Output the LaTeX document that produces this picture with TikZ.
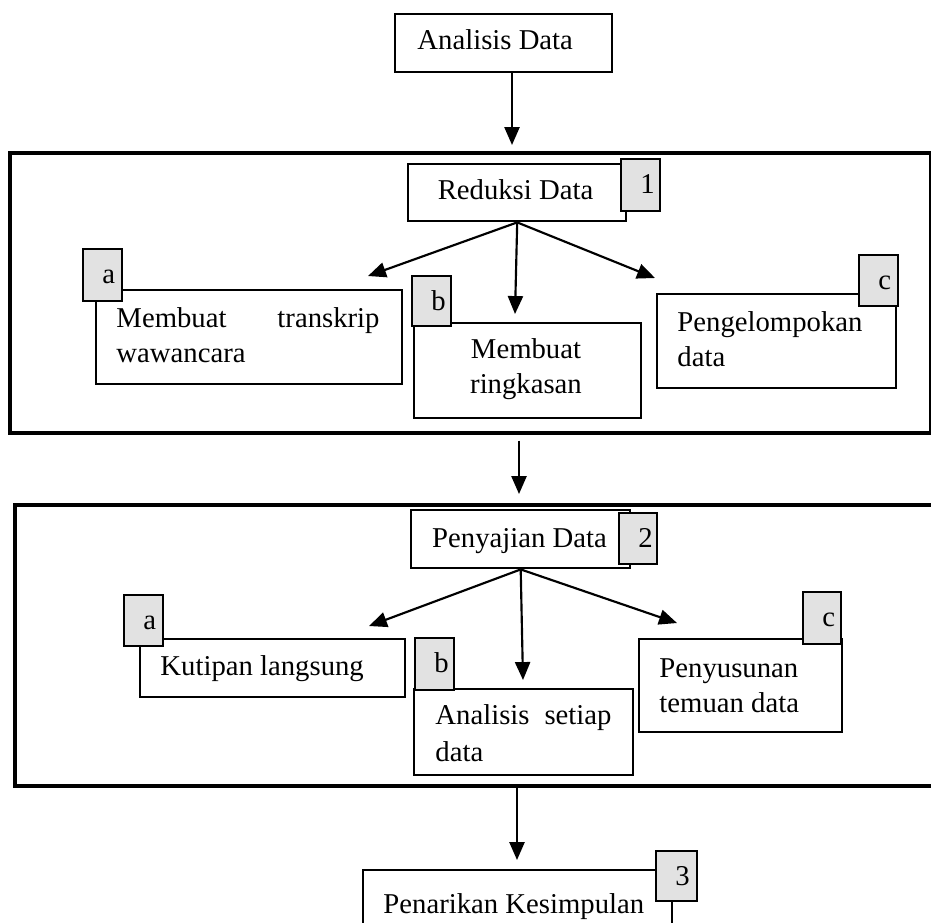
\documentclass[tikz,border=0pt]{standalone}
\usepackage{fontspec}
\setmainfont{Liberation Serif}
\usetikzlibrary{arrows.meta}
\definecolor{badgegray}{HTML}{E2E2E2}
\newdimen\pxu \pxu=0.418pt
% numbered tag box: name, left, top, width, height, label
\newcommand\mkbadge[6]{%
  \node[badge, wh={#4}{#5}] (#1) at (#2,#3) {};
  \node[txt, anchor=base west] (#1-t) at (#2+20,#3+35) {#6};}
\begin{document}
\begin{tikzpicture}[x=0.418pt,y=-0.418pt,
  txt/.style={inner sep=0, font=\fontsize{12pt}{15pt}\selectfont},
  wh/.style 2 args={minimum width=#1*\pxu, minimum height=#2*\pxu},
  frame/.style={draw, line width=1.5pt, inner sep=0, anchor=north west},
  box/.style={draw, fill=white, line width=1pt, inner sep=0, anchor=north west},
  badge/.style={draw, fill=badgegray, line width=1pt, inner sep=0, anchor=north west},
  arr/.style={-{Triangle[width=6.3pt,length=7.5pt]}, line width=0.9pt}]
\useasboundingbox (0,0) rectangle (931,922);
\clip (0,0) rectangle (931,922);

% ---- start
\node[box, wh={217}{58}] (A) at (394,13) {};
\node[txt, anchor=base west] (A-t) at (417,49) {Analisis Data};
\coordinate (tA) at (512,145);
\draw[arr] (A.south -| tA) -- (tA);

% ---- stage 1: data reduction
\node[frame, wh={921}{280}] (F1) at (8,151) {};
\node[box, wh={218}{57}] (R) at (407,163) {};
\node[txt, anchor=base] (R-t) at (515.5,199) {Reduksi Data};
\mkbadge{B1}{620}{158}{39}{52}{1}

\node[box, wh={306}{94}] (Ra) at (95,289) {};
\node[txt, anchor=base west] (Ra-t1) at (116,327) {Membuat};
\node[txt, anchor=base east] (Ra-t2) at (380,327) {transkrip};
\node[txt, anchor=base west] (Ra-t3) at (116,362) {wawancara};
\mkbadge{Ba1}{82}{248}{39}{52}{a}

\node[box, wh={227}{95}] (Rb) at (413,322) {};
\node[txt, anchor=base] (Rb-t1) at (526,358) {Membuat};
\node[txt, anchor=base] (Rb-t2) at (526,393) {ringkasan};
\mkbadge{Bb1}{411}{275}{39}{50}{b}

\node[box, wh={239}{94}] (Rc) at (656,293) {};
\node[txt, anchor=base west] (Rc-t1) at (677,331) {Pengelompokan};
\node[txt, anchor=base west] (Rc-t2) at (677,366) {data};
\mkbadge{Bc1}{858}{254}{39}{51}{c}

\coordinate (ra) at (368,276);
\coordinate (rb) at (515,314);
\coordinate (rc) at (655,278);
\draw[arr] (R.south) -- (ra);
\draw[arr] (R.south) -- (rb);
\draw[arr] (R.south) -- (rc);

\coordinate (tF1) at (519,494);
\draw[arr, shorten <=2.5pt] (F1.south -| tF1) -- (tF1);

% ---- stage 2: data display
\node[frame, wh={940}{281}] (F2) at (13,503) {};
\node[box, wh={219}{58}] (P) at (410,509) {};
\node[txt, anchor=base] (P-t) at (519.5,547) {Penyajian Data};
\mkbadge{B2}{618}{512}{38}{51}{2}

\node[box, wh={265}{58}] (Pa) at (139,638) {};
\node[txt, anchor=base west] (Pa-t) at (160,675) {Kutipan langsung};
\mkbadge{Ba2}{123}{594}{39}{51}{a}

\node[box, wh={219}{86}] (Pb) at (413,688) {};
\node[txt, anchor=base west] (Pb-t1) at (435,724) {Analisis};
\node[txt, anchor=base east] (Pb-t2) at (612,724) {setiap};
\node[txt, anchor=base west] (Pb-t3) at (435,761) {data};
\mkbadge{Bb2}{414}{637}{39}{52}{b}

\node[box, wh={203}{93}] (Pc) at (638,638) {};
\node[txt, anchor=base west] (Pc-t1) at (659,677) {Penyusunan};
\node[txt, anchor=base west] (Pc-t2) at (659,712) {temuan data};
\mkbadge{Bc2}{802}{591}{38}{52}{c}

\coordinate (pa) at (369,626);
\coordinate (pb) at (523,680);
\coordinate (pc) at (677,623);
\draw[arr] (P.south) -- (pa);
\draw[arr] (P.south) -- (pb);
\draw[arr] (P.south) -- (pc);

\coordinate (tF2) at (517,860);
\draw[arr] (F2.south -| tF2) -- (tF2);

% ---- stage 3: conclusion
\node[box, wh={309}{100}] (K) at (362,869) {};
\node[txt, anchor=base west] (K-t) at (383,913) {Penarikan Kesimpulan};
\mkbadge{B3}{655}{850}{41}{50}{3}
\end{tikzpicture}
\end{document}
